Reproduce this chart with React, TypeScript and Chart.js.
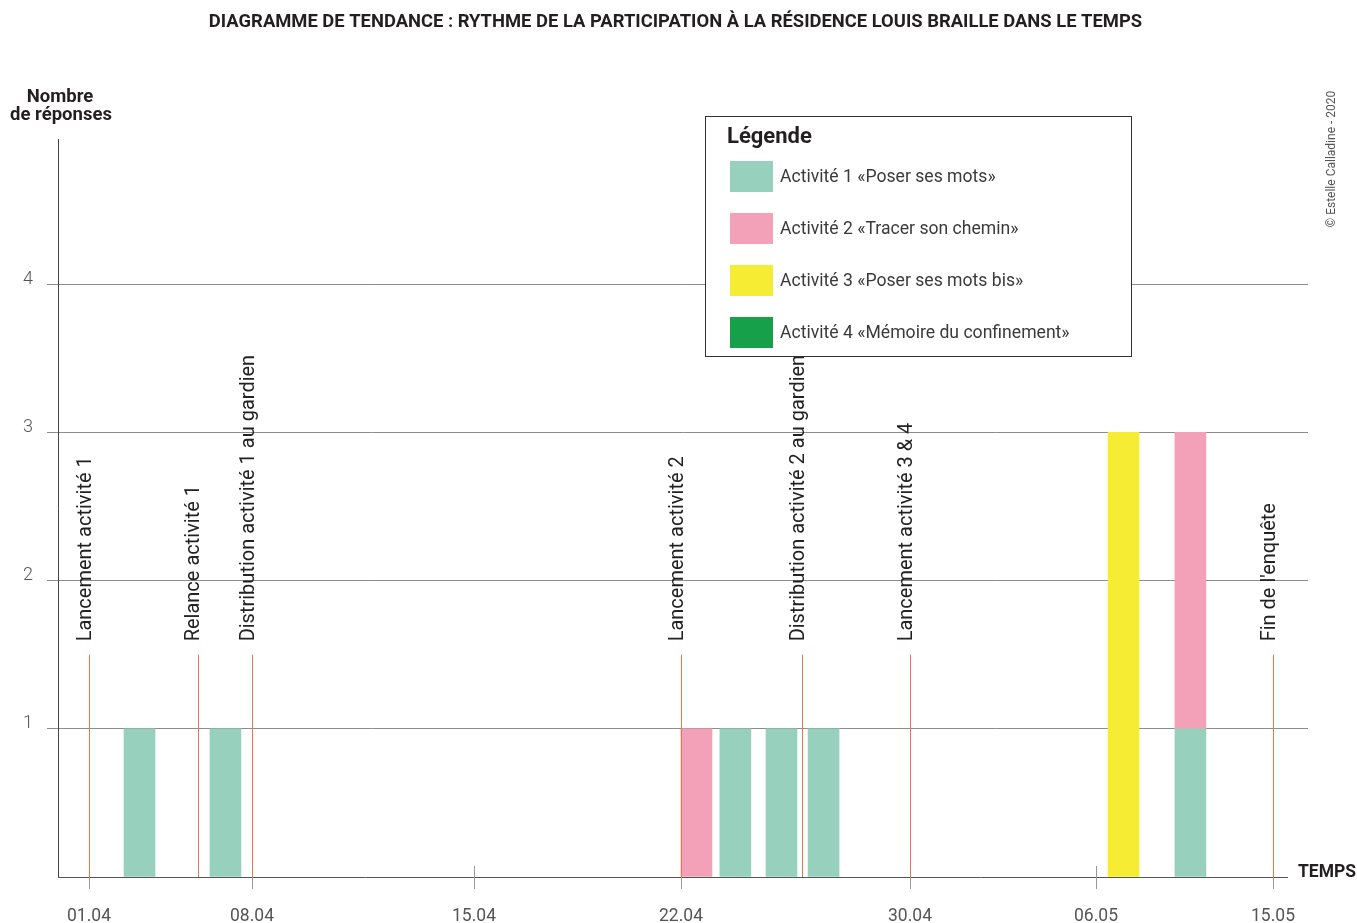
import React, { useEffect, useRef } from 'react';
import { Chart, registerables, LinearScale } from 'chart.js';

Chart.register(...registerables);

const TITLE = 'DIAGRAMME DE TENDANCE : RYTHME DE LA PARTICIPATION À LA RÉSIDENCE LOUIS BRAILLE DANS LE TEMPS';
const Y_TITLE = ['Nombre', 'de réponses'];
const X_TITLE = 'TEMPS';
const LEGEND_TITLE = 'Légende';
const CREDIT = '© Estelle Calladine - 2020';

// x values: days counted from 01.04.2020
const tickDays = [0, 7, 14, 21, 29, 35, 44];
const tickLabels = ['01.04', '08.04', '15.04', '22.04', '30.04', '06.05', '15.05'];

const seriesLabels = [
  'Activité 1 «Poser ses mots»',
  'Activité 2 «Tracer son chemin»',
  'Activité 3 «Poser ses mots bis»',
  'Activité 4 «Mémoire du confinement»',
];
const seriesColors = ['#97d1be', '#f3a0b9', '#f5ec33', '#17a04a'];

const activity1Days = [2.17, 5.86, 22.9, 24.51, 25.98, 39.8];
const activity1Values = [1, 1, 1, 1, 1, 1];
const activity2Days = [21.54, 39.8];
const activity2Values = [1, 2];
const activity3Days = [36.4];
const activity3Values = [3];
const activity4Days: number[] = [];
const activity4Values: number[] = [];

const eventDays = [0, 4.68, 7, 21, 25.23, 29, 44];
const eventLabels = [
  'Lancement activité 1',
  'Relance activité 1',
  'Distribution activité 1 au gardien',
  'Lancement activité 2',
  'Distribution activité 2 au gardien',
  'Lancement activité 3 & 4',
  "Fin de l'enquête",
];
const eventLineTop = 1.5;
const eventLabelStart = 1.59;

const yTicks = [1, 2, 3, 4];

// Non-uniform time axis of the original: fraction of the axis width at each tick date
const X_AXIS_TICK_FRACTIONS = [0.0248, 0.1552, 0.3328, 0.4984, 0.6816, 0.8304, 0.972];

function interp(v: number, xs: number[], ys: number[]) {
  const n = xs.length;
  let i = 0;
  if (v <= xs[0]) i = 0;
  else if (v >= xs[n - 1]) i = n - 2;
  else while (v > xs[i + 1]) i++;
  const t = (v - xs[i]) / (xs[i + 1] - xs[i]);
  return ys[i] + t * (ys[i + 1] - ys[i]);
}

class PiecewiseScale extends LinearScale {
  static id = 'piecewise';
  static defaults = {};
  getPixelForValue(value: any) {
    if (value === null || value === undefined || isNaN(value)) return NaN;
    return this.getPixelForDecimal(interp(+value, tickDays, X_AXIS_TICK_FRACTIONS));
  }
  getValueForPixel(pixel: number) {
    return interp(this.getDecimalForPixel(pixel), X_AXIS_TICK_FRACTIONS, tickDays);
  }
}
Chart.register(PiecewiseScale as any);

const FONT = 'Roboto, "Noto Sans", sans-serif';

const toPoints = (days: number[], vals: number[]) => days.map((d, i) => ({ x: d, y: vals[i] }));

const crisp = (v: number) => Math.round(v) + 0.5;

const decorPlugin = {
  id: 'decor',
  afterDatasetsDraw(chart: any) {
    const { ctx, chartArea } = chart;
    const x = chart.scales.x;
    const y = chart.scales.y;
    const y0 = y.getPixelForValue(0);
    ctx.save();

    // x axis line
    ctx.strokeStyle = '#555';
    ctx.lineWidth = 1;
    ctx.beginPath();
    ctx.moveTo(chartArea.left, crisp(y0));
    ctx.lineTo(chartArea.right - 20, crisp(y0));
    ctx.stroke();

    // x tick marks crossing the axis
    ctx.strokeStyle = '#9a9a9a';
    tickDays.forEach((d) => {
      const px = crisp(x.getPixelForValue(d));
      ctx.beginPath();
      ctx.moveTo(px, y0 - 11);
      ctx.lineTo(px, y0 + 12);
      ctx.stroke();
    });

    // event lines and labels
    eventDays.forEach((d, i) => {
      const px = x.getPixelForValue(d);
      ctx.strokeStyle = '#f07350';
      ctx.lineWidth = 1;
      ctx.beginPath();
      ctx.moveTo(crisp(px), y.getPixelForValue(eventLineTop));
      ctx.lineTo(crisp(px), y0);
      ctx.stroke();

      ctx.save();
      ctx.translate(px + 1.5, y.getPixelForValue(eventLabelStart));
      ctx.rotate(-Math.PI / 2);
      ctx.fillStyle = '#222';
      ctx.font = `20px ${FONT}`;
      ctx.textAlign = 'left';
      ctx.textBaseline = 'alphabetic';
      ctx.fillText(eventLabels[i], 0, 0);
      ctx.restore();
    });

    // title
    ctx.fillStyle = '#231f20';
    ctx.font = `bold 18.4px ${FONT}`;
    ctx.textAlign = 'center';
    ctx.textBaseline = 'middle';
    ctx.fillText(TITLE, 675.5, 22);

    // y axis title
    ctx.font = `bold 18.5px ${FONT}`;
    ctx.fillText(Y_TITLE[0], 60, 97);
    ctx.fillText(Y_TITLE[1], 61, 115);

    // x axis title
    ctx.textAlign = 'left';
    ctx.font = `bold 17.5px ${FONT}`;
    ctx.fillText(X_TITLE, 1298, 873);

    // credit
    ctx.save();
    ctx.translate(1332, 159);
    ctx.rotate(-Math.PI / 2);
    ctx.fillStyle = '#555';
    ctx.font = `12px ${FONT}`;
    ctx.textAlign = 'center';
    ctx.textBaseline = 'middle';
    ctx.fillText(CREDIT, 0, 0);
    ctx.restore();

    // legend
    const lx = 705.5, ly = 116.5, lw = 426, lh = 240;
    ctx.fillStyle = '#fff';
    ctx.fillRect(lx, ly, lw, lh);
    ctx.strokeStyle = '#333';
    ctx.lineWidth = 1;
    ctx.strokeRect(lx, ly, lw, lh);
    ctx.fillStyle = '#231f20';
    ctx.font = `bold 22px ${FONT}`;
    ctx.textAlign = 'left';
    ctx.textBaseline = 'middle';
    ctx.fillText(LEGEND_TITLE, 727, 137);
    chart.data.datasets.forEach((ds: any, i: number) => {
      const top = 161 + i * 52;
      ctx.fillStyle = ds.backgroundColor;
      ctx.fillRect(730, top, 43, 31);
      ctx.fillStyle = '#3a3a3a';
      ctx.font = `17.6px ${FONT}`;
      ctx.fillText(ds.label, 780, top + 17);
    });

    ctx.restore();
  },
};

export default function App() {
  const ref = useRef<HTMLCanvasElement>(null);
  useEffect(() => {
    document.body.style.margin = '0';
    const canvas = ref.current!;
    const pointSets = [
      toPoints(activity1Days, activity1Values),
      toPoints(activity2Days, activity2Values),
      toPoints(activity3Days, activity3Values),
      toPoints(activity4Days, activity4Values),
    ];
    const chart = new Chart(canvas, {
      type: 'bar',
      data: {
        datasets: pointSets.map((pts, i) => ({
          label: seriesLabels[i],
          data: pts,
          backgroundColor: seriesColors[i],
          borderWidth: 0,
          barThickness: 31,
        })),
      },
      options: {
        animation: false,
        responsive: false,
        events: [],
        layout: { padding: { top: 139, right: 49, bottom: 0, left: 0 } },
        plugins: { legend: { display: false }, tooltip: { enabled: false }, title: { display: false } },
        scales: {
          x: {
            type: 'piecewise' as any,
            min: -1.33,
            max: 45.78,
            stacked: true,
            offset: false,
            grid: { display: false, drawTicks: false, offset: false },
            border: { display: false },
            afterBuildTicks: (s: any) => {
              s.ticks = tickDays.map((v) => ({ value: v }));
            },
            afterFit: (s: any) => {
              s.height = 46;
            },
            ticks: {
              autoSkip: false,
              maxRotation: 0,
              minRotation: 0,
              padding: 29,
              color: '#555',
              font: { family: FONT, size: 17.5 },
              callback: (v: any) => {
                const k = tickDays.indexOf(v);
                return k >= 0 ? tickLabels[k] : '';
              },
            },
          },
          y: {
            type: 'linear',
            min: 0,
            max: 4.98,
            stacked: true,
            afterFit: (s: any) => {
              s.width = 58;
            },
            grid: {
              color: (c: any) => (c.tick && yTicks.includes(c.tick.value) ? '#8c8c8c' : 'rgba(0,0,0,0)'),
              tickLength: 11,
              lineWidth: 1,
            },
            border: { display: true, color: '#444', width: 1 },
            ticks: {
              stepSize: 1,
              padding: 14,
              labelOffset: -5,
              color: '#555',
              font: { family: FONT, size: 18, weight: '300' as any },
              callback: (v: any) => (yTicks.includes(v) ? String(v) : ''),
            },
          },
        },
      },
      plugins: [decorPlugin],
    } as any);
    return () => chart.destroy();
  }, []);
  return (
    <div style={{ width: 1357, height: 923 }}>
      <canvas ref={ref} width={1357} height={923} style={{ display: 'block' }} />
    </div>
  );
}
